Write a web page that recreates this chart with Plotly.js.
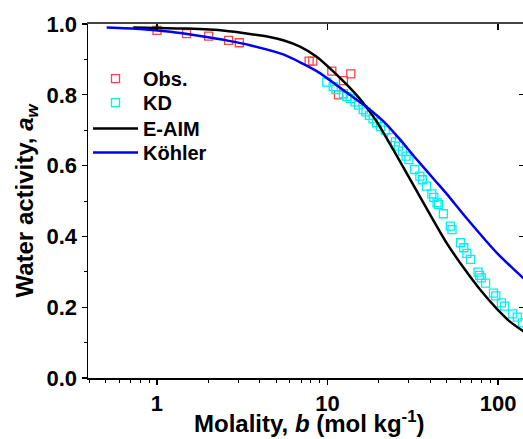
<!DOCTYPE html>
<html>
<head>
<meta charset="utf-8">
<script src="https://cdn.plot.ly/plotly-3.0.1.min.js"></script>
<style>
html,body{margin:0;padding:0;overflow:hidden;background:#fff;}
#chart{width:525px;height:439px;}
</style>
</head>
<body>
<div id="chart"></div>
<script>
// Observed data
const obsB = [1.0, 1.49, 2.01, 2.63, 3.04, 7.8, 8.2, 10.6, 11.6, 12.4, 13.7];
const obsAw = [0.982, 0.973, 0.966, 0.954, 0.947, 0.895, 0.895, 0.867, 0.800, 0.840, 0.859];

// KD data
const kdB = [9.9, 10.8, 11.2, 12.4, 13.0, 13.6, 14.5, 15.2, 16.2, 16.8, 17.6, 18.5, 19.4, 20.5, 21.8,
  23.7, 25.0, 26.1, 27.5, 28.9, 30.0, 32.5, 34.8, 36.0, 38.1, 40.9, 42.0, 43.9, 44.8, 47.8, 52.5,
  53.7, 60.4, 63.0, 65.7, 69.0, 76.3, 78.0, 79.7, 84.5, 94.0, 97.0, 104.7, 109.5, 122, 129.6, 139];
const kdAw = [0.836, 0.823, 0.815, 0.803, 0.795, 0.789, 0.780, 0.771, 0.758, 0.752, 0.742, 0.732, 0.721, 0.710, 0.700,
  0.679, 0.667, 0.655, 0.641, 0.627, 0.617, 0.589, 0.570, 0.560, 0.542, 0.520, 0.510, 0.495, 0.490, 0.464, 0.429,
  0.419, 0.382, 0.368, 0.352, 0.335, 0.299, 0.290, 0.283, 0.268, 0.240, 0.232, 0.212, 0.203, 0.181, 0.172, 0.156];

// E-AIM model curve
const eaimB = [0.726, 1.0, 1.5, 2.5, 3.5, 4.5, 5.5, 6.9, 8.6, 10.8, 13.5, 16.2, 19.4, 24.3, 31.9, 39.9, 50, 62.7, 78.4, 98.2, 117, 140, 150];
const eaimAw = [0.990, 0.989, 0.987, 0.981, 0.972, 0.964, 0.954, 0.936, 0.908, 0.866, 0.820, 0.777, 0.725, 0.645, 0.545, 0.462, 0.381, 0.312, 0.250, 0.196, 0.160, 0.133, 0.124];

// Köhler model curve
const kohB = [0.507, 0.794, 1.2, 1.79, 2.6, 3.51, 5.5, 8.65, 13.5, 17, 21.3, 26.6, 33, 42.7, 50, 62.7, 85.9, 100, 120, 140, 150];
const kohAw = [0.990, 0.986, 0.978, 0.966, 0.953, 0.940, 0.914, 0.867, 0.800, 0.765, 0.725, 0.674, 0.620, 0.558, 0.520, 0.462, 0.385, 0.350, 0.313, 0.283, 0.272];

// Axis ticks
const xTickVals = [1, 10, 100];
const xTickText = ['1', '10', '100'];
const xMinorVals = [0.4, 0.5, 0.6, 0.7, 0.8, 0.9, 2, 3, 4, 5, 6, 7, 8, 9, 20, 30, 40, 50, 60, 70, 80, 90, 200];

const xTitle = 'Molality, <i>b</i> (mol kg<sup>-1</sup>)';
const yTitle = 'Water activity, <i>a</i><sub><i>w</i></sub>';

const FONT = 'Arial, "Liberation Sans", sans-serif';
const legFont = {family: FONT, size: 20, weight: 'bold'};

const traces = [
  {x: obsB, y: obsAw, name: 'Obs.', type: 'scatter', mode: 'markers', legend: 'legend',
   marker: {symbol: 'square-open', size: 8, color: 'rgb(245,70,70)', line: {width: 1.3}}},
  {x: kdB, y: kdAw, name: 'KD', type: 'scatter', mode: 'markers', legend: 'legend2',
   marker: {symbol: 'square-open', size: 8, color: 'rgb(0,240,240)', line: {width: 1.3}}},
  {x: eaimB, y: eaimAw, name: 'E-AIM', type: 'scatter', mode: 'lines', legend: 'legend3',
   line: {color: '#000', width: 2.5, shape: 'spline', smoothing: 0.6}},
  {x: kohB, y: kohAw, name: 'Köhler', type: 'scatter', mode: 'lines', legend: 'legend4',
   line: {color: '#0000ee', width: 2.5, shape: 'spline', smoothing: 0.6}},
  {x: [], y: [], xaxis: 'x2', yaxis: 'y2', showlegend: false, type: 'scatter', mode: 'markers'}
];

const xRange = [Math.log10(0.394), Math.log10(142)];

// plot area: y from 24 to 378 px (354 px tall)
function leg(y) {
  return {x: 0.0, y: y, xanchor: 'left', yanchor: 'top', bgcolor: 'rgba(0,0,0,0)',
          font: legFont, itemwidth: 45, tracegroupgap: 0};
}

const layout = {
  width: 525, height: 439,
  margin: {l: 88, r: 1, t: 24, b: 61},
  paper_bgcolor: '#fff', plot_bgcolor: '#fff',
  font: {family: FONT, color: '#000'},
  showlegend: true,
  legend: leg(0.901),
  legend2: leg(0.833),
  legend3: leg(0.760),
  legend4: leg(0.692),
  annotations: [
    {text: xTitle, xref: 'paper', yref: 'paper', x: 0.507, y: -0.124, xanchor: 'center', yanchor: 'middle',
     showarrow: false, font: {family: FONT, size: 24, weight: 'bold', color: '#000'}}
  ],
  xaxis: {
    type: 'log', range: xRange, showgrid: false, zeroline: false,
    showline: true, linecolor: '#000', linewidth: 1.5,
    ticks: 'outside', ticklen: 5, tickwidth: 1.2, tickcolor: '#000',
    tickvals: xTickVals, ticktext: xTickText,
    tickfont: {family: FONT, size: 22, weight: 'bold'},
    minor: {tickvals: xMinorVals, ticks: 'outside', ticklen: 3, tickwidth: 1, tickcolor: '#000', showgrid: false},
    automargin: false
  },
  yaxis: {
    range: [0, 1], showgrid: false, zeroline: false,
    showline: true, linecolor: '#000', linewidth: 1.5,
    ticks: 'outside', ticklen: 5, tickwidth: 1.2, tickcolor: '#000',
    dtick: 0.2, tick0: 0, tickformat: '.1f',
    tickfont: {family: FONT, size: 22, weight: 'bold'},
    minor: {dtick: 0.1, ticks: 'outside', ticklen: 3, tickwidth: 1, tickcolor: '#000', showgrid: false},
    title: {text: yTitle, font: {family: FONT, size: 24, weight: 'bold'}, standoff: 6},
    automargin: true
  },
  xaxis2: {
    type: 'log', range: xRange, overlaying: 'x', side: 'top', anchor: 'y2',
    showgrid: false, zeroline: false, showline: true, linecolor: '#444', linewidth: 2,
    ticks: 'inside', ticklen: 6, tickwidth: 1.2, tickcolor: '#000',
    tickvals: xTickVals, showticklabels: false
  },
  yaxis2: {
    range: [0, 1], overlaying: 'y', side: 'right', anchor: 'x2',
    showgrid: false, zeroline: false, showline: true, linecolor: '#000', linewidth: 1.5,
    ticks: 'inside', ticklen: 5, tickwidth: 1.2, tickcolor: '#000',
    dtick: 0.2, tick0: 0, showticklabels: false
  }
};

Plotly.newPlot('chart', traces, layout, {staticPlot: true, displayModeBar: false});
</script>
</body>
</html>
